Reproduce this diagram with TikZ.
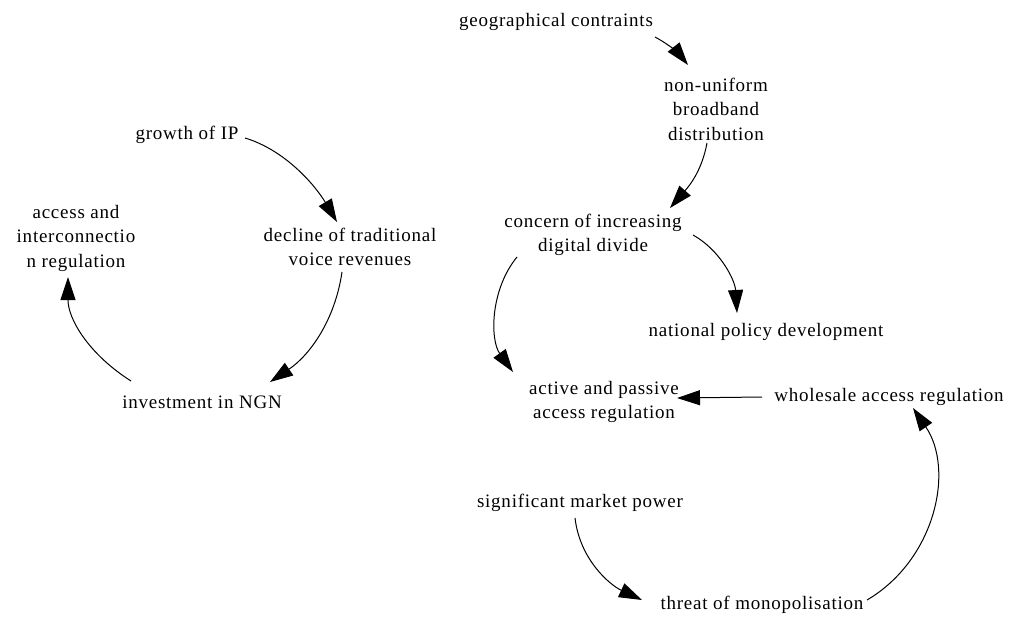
\documentclass[tikz,border=0pt]{standalone}
\usepackage{fontspec}
\setmainfont{Liberation Serif}[LetterSpace=4]
\usetikzlibrary{arrows.meta}
\tikzset{
  lbl/.style={align=center, inner sep=0pt, font=\fontsize{19}{24.5}\selectfont},
  arr/.style={line width=1pt, -{Triangle[length=23pt,width=15pt]}}
}
\begin{document}
\begin{tikzpicture}[x=1pt,y=-1pt]
\useasboundingbox (0,0) rectangle (1017,616);
\node[lbl] (geo) at (556,22) {geographical contraints};
\node[lbl] (nonu) at (716,109) {non-uniform\\broadband\\distribution};
\node[lbl] (growth) at (187,135) {growth of IP};
\node[lbl] (access) at (76,238) {access and\\interconnectio\\n regulation};
\node[lbl] (decline) at (350,247) {decline of traditional\\voice revenues};
\node[lbl] (invest) at (202,402) {investment in NGN};
\node[lbl] (concern) at (593,235) {concern of increasing\\digital divide};
\node[lbl] (national) at (766,332) {national policy development};
\node[lbl] (active) at (604,402) {active and passive\\access regulation};
\node[lbl] (wholesale) at (889,397) {wholesale access regulation};
\node[lbl] (significant) at (580,503) {significant market power};
\node[lbl] (threat) at (762,605) {threat of monopolisation};

\draw[arr] ([shift={(99,15)}]geo.center) .. controls +(15,8) and +(-8,-10) .. ([shift={(-28,-44)}]nonu.center);
\draw[arr] ([shift={(-9,34)}]nonu.center) .. controls +(-5,27) and +(20,-23) .. ([shift={(77,-27)}]concern.center);
\draw[arr] ([shift={(58,3)}]growth.center) .. controls +(40,12) and +(-22,-37) .. ([shift={(-13,-25)}]decline.center);
\draw[arr] ([shift={(-8,25)}]decline.center) .. controls +(-7,48) and +(40,-27) .. ([shift={(68,-20)}]invest.center);
\draw[arr] ([shift={(-71,-21)}]invest.center) .. controls +(-41,-26) and +(0,43) .. ([shift={(-8,39)}]access.center);
\draw[arr] ([shift={(100,0)}]concern.center) .. controls +(27,15) and +(-2,-33) .. ([shift={(-29,-19)}]national.center);
\draw[arr] ([shift={(-76,22)}]concern.center) .. controls +(-27,33) and +(-23,-32) .. ([shift={(-91,-30)}]active.center);
\draw[arr] ([shift={(-127,0)}]wholesale.center) -- ([shift={(73,-4)}]active.center);
\draw[arr] ([shift={(-5,15)}]significant.center) .. controls +(5,42) and +(-32,-15) .. ([shift={(-120,-5)}]threat.center);
\draw[arr] ([shift={(105,-5)}]threat.center) .. controls +(68,-40) and +(42,62) .. ([shift={(24,11)}]wholesale.center);
\end{tikzpicture}
\end{document}
